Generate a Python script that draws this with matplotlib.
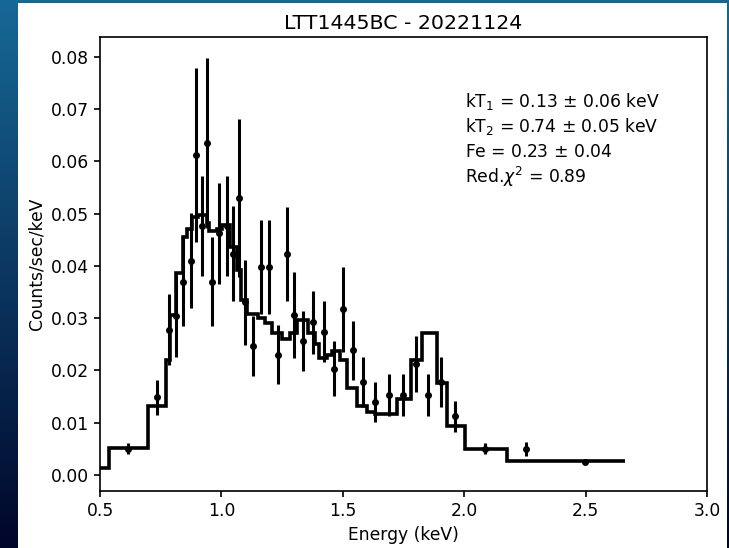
import numpy as np
import matplotlib
matplotlib.use('Agg')
import matplotlib.pyplot as plt
from matplotlib.patches import Rectangle

# Data points (energy in keV, counts/sec/keV, 1-sigma error)
energy = [0.617, 0.735, 0.785, 0.813, 0.840, 0.873, 0.895, 0.919, 0.939, 0.960,
          0.991, 1.022, 1.049, 1.071, 1.097, 1.129, 1.163, 1.196, 1.232, 1.269,
          1.299, 1.335, 1.379, 1.423, 1.465, 1.502, 1.540, 1.582, 1.633, 1.692,
          1.749, 1.801, 1.852, 1.903, 1.962, 2.086, 2.255, 2.498]
rate = [0.0050, 0.0148, 0.0278, 0.0304, 0.0370, 0.0410, 0.0612, 0.0476, 0.0635, 0.0370,
        0.0462, 0.0476, 0.0423, 0.0530, 0.0330, 0.0247, 0.0397, 0.0397, 0.0230, 0.0423,
        0.0306, 0.0256, 0.0292, 0.0274, 0.0203, 0.0317, 0.0238, 0.0177, 0.0139, 0.0152,
        0.0152, 0.0212, 0.0152, 0.0177, 0.0112, 0.0050, 0.0049, 0.0024]
rate_err = [0.0011, 0.0034, 0.0068, 0.0078, 0.0086, 0.0091, 0.0166, 0.0095, 0.0162, 0.0086,
            0.0096, 0.0095, 0.0091, 0.0151, 0.0081, 0.0057, 0.0090, 0.0090, 0.0056, 0.0090,
            0.0083, 0.0057, 0.0060, 0.0059, 0.0053, 0.0081, 0.0056, 0.0048, 0.0038, 0.0040,
            0.0040, 0.0053, 0.0040, 0.0048, 0.0030, 0.0011, 0.0013, 0.0004]

# Best-fit model (step histogram)
model_edges = [0.500, 0.538, 0.696, 0.772, 0.788, 0.813, 0.843, 0.860, 0.878, 0.905,
               0.939, 0.950, 0.980, 1.001, 1.035, 1.065, 1.080, 1.104, 1.152, 1.180,
               1.207, 1.248, 1.283, 1.310, 1.358, 1.385, 1.403, 1.434, 1.454, 1.488,
               1.516, 1.557, 1.598, 1.633, 1.722, 1.780, 1.825, 1.887, 1.928, 2.003,
               2.175, 2.340, 2.662]
model_vals = [0.0013, 0.0051, 0.0131, 0.0220, 0.0306, 0.0386, 0.0456, 0.0470, 0.0494, 0.0497,
              0.0482, 0.0466, 0.0470, 0.0478, 0.0436, 0.0392, 0.0335, 0.0308, 0.0300, 0.0290,
              0.0271, 0.0260, 0.0271, 0.0297, 0.0271, 0.0250, 0.0223, 0.0230, 0.0237, 0.0220,
              0.0166, 0.0132, 0.0121, 0.0116, 0.0145, 0.0220, 0.0272, 0.0176, 0.0094, 0.0049,
              0.0027, 0.0026]

fit_lines = [r'kT$_1$ = 0.13 $\pm$ 0.06 keV',
             r'kT$_2$ = 0.74 $\pm$ 0.05 keV',
             r'Fe = 0.23 $\pm$ 0.04',
             r'Red.$\chi^2$ = 0.89']

plt.rcParams['font.family'] = 'DejaVu Sans'
plt.rcParams['mathtext.fontset'] = 'dejavusans'
fs = 12.3

fig = plt.figure(figsize=(7.29, 5.48), dpi=100)

# slide background (blue gradient) with white figure panel
bg = fig.add_axes([0, 0, 1, 1], zorder=-2)
grad = np.linspace(0, 1, 256)[:, None]
top = np.array([22, 104, 150]) / 255
bot = np.array([0, 6, 42]) / 255
img = top[None, None, :] * (1 - grad[..., None]) + bot[None, None, :] * grad[..., None]
img = np.repeat(img, 2, axis=1)
bg.imshow(img, aspect='auto', extent=[0, 1, 0, 1])
bg.set_axis_off()
fig.patches.append(Rectangle((18 / 729, 0), 709 / 729, 545 / 548,
                             transform=fig.transFigure, facecolor='white',
                             edgecolor='none', zorder=-1))

ax = fig.add_axes([100 / 729, 57 / 548, 607 / 729, 454 / 548])
ax.set_facecolor('white')

ax.stairs(model_vals, model_edges, baseline=None, color='k', lw=2.6)
ax.errorbar(energy, rate, yerr=rate_err, fmt='o', color='k', ms=4,
            elinewidth=2.2, capsize=0)

for i, line in enumerate(fit_lines):
    ax.text(0.601, 0.859 - i * 0.056, line, transform=ax.transAxes,
            fontsize=fs, va='center', ha='left')

ax.set_xlim(0.5, 3.0)
ax.set_ylim(-0.0031, 0.0838)
ax.set_xticks([0.5, 1.0, 1.5, 2.0, 2.5, 3.0])
ax.set_yticks(np.arange(0, 0.081, 0.01))
ax.yaxis.set_major_formatter(matplotlib.ticker.FormatStrFormatter('%.2f'))
ax.tick_params(labelsize=fs, width=1.2, length=4.5)
for s in ax.spines.values():
    s.set_linewidth(1.2)

ax.set_xlabel('Energy (keV)', fontsize=fs)
ax.set_ylabel('Counts/sec/keV', fontsize=fs)
ax.set_title('LTT1445BC - 20221124', fontsize=fs * 1.2)

fig.savefig('out.png', dpi=100)
